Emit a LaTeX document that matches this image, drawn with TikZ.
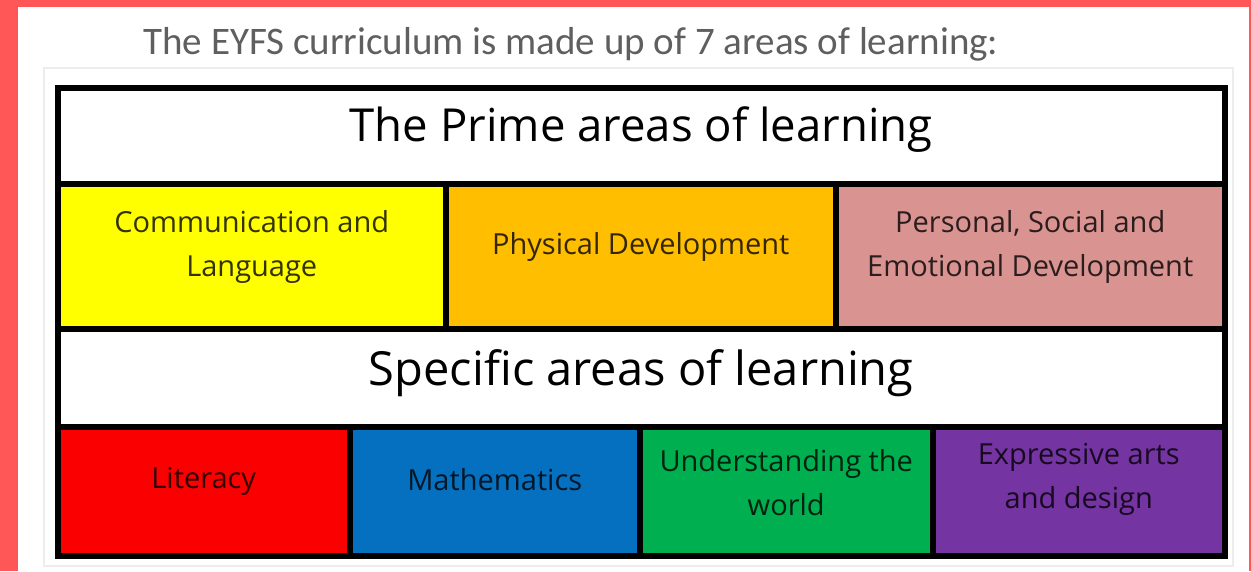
\documentclass[tikz,border=0pt]{standalone}
\usepackage{fontspec}
\setmainfont{Open Sans}
\newfontfamily\titlefont{Carlito}
\definecolor{coral}{RGB}{255,87,87}
\definecolor{cyellow}{RGB}{255,255,0}
\definecolor{corange}{RGB}{255,190,0}
\definecolor{cpink}{RGB}{217,148,146}
\definecolor{cred}{RGB}{250,0,0}
\definecolor{cblue}{RGB}{5,112,192}
\definecolor{cgreen}{RGB}{0,176,80}
\definecolor{cpurple}{RGB}{116,52,162}
\definecolor{ctitle}{RGB}{95,95,95}
\tikzset{
  x=1pt, y=-1pt,
  cell/.style={draw=black, line width=5.5pt, minimum width=#1, inner sep=0pt, anchor=north west},
  lbl/.style={text=black, text opacity=0.8, font=\fontsize{29}{44}\selectfont, align=center, inner sep=0pt},
  head/.style={text=black, font=\fontsize{#1}{50}\selectfont, inner sep=0pt},
}
\begin{document}
\begin{tikzpicture}
\useasboundingbox (0,0) rectangle (1251,571);
\fill[coral] (0,0) rectangle (1251,571);
\fill[white] (18,7) rectangle (1249,571);
\draw[black!7, line width=1.5pt] (44,68) rectangle (1233,566);
\node[text=ctitle, font=\titlefont\fontsize{39}{42}\selectfont, inner sep=0pt] (title) at (571,44) {The EYFS curriculum is made up of 7 areas of learning:};
% row 1
\node[cell=1167pt, minimum height=96pt, fill=white] (prime) at (55,85) {};
% row 2
\node[cell=388pt, minimum height=145pt, fill=cyellow] (cl) at (55,181) {};
\node[cell=390pt, minimum height=145pt, fill=corange] (pd) at (443,181) {};
\node[cell=389pt, minimum height=145pt, fill=cpink] (pse) at (833,181) {};
% row 3
\node[cell=1167pt, minimum height=98pt, fill=white] (spec) at (55,326) {};
% row 4
\node[cell=292pt, minimum height=129pt, fill=cred] (lit) at (55,424) {};
\node[cell=290pt, minimum height=129pt, fill=cblue] (math) at (347,424) {};
\node[cell=293pt, minimum height=129pt, fill=cgreen] (utw) at (637,424) {};
\node[cell=292pt, minimum height=129pt, fill=cpurple] (ead) at (930,424) {};
% labels
\node[head=45.5] (primet) at ([yshift=6]prime.center) {The Prime areas of learning};
\node[head=47] (spect) at ([yshift=5]spec.center) {Specific areas of learning};
\node[lbl] (clt) at ([yshift=9]cl.center) {Communication and\\Language};
\node[lbl] (pdt) at ([yshift=9]pd.center) {Physical Development};
\node[lbl] (pset) at ([yshift=9]pse.center) {Personal, Social and\\Emotional Development};
\node[lbl] (litt) at ([yshift=10]lit.center) {Literacy};
\node[lbl] (matht) at ([yshift=12]math.center) {Mathematics};
\node[lbl] (utwt) at ([yshift=9]utw.center) {Understanding the\\world};
\node[lbl] (eadt) at ([yshift=12]ead.center) {Expressive arts\\and design};
\end{tikzpicture}
\end{document}
